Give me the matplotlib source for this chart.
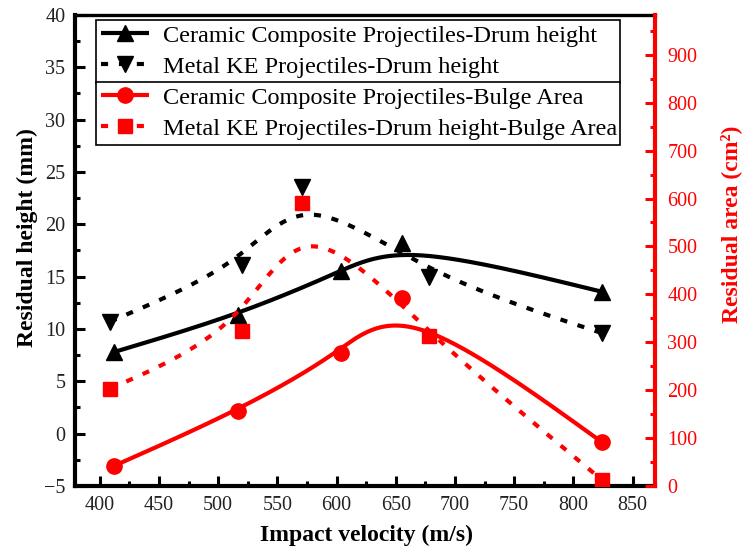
import numpy as np
import matplotlib
matplotlib.use('Agg')
import matplotlib.pyplot as plt
from matplotlib.ticker import MultipleLocator

plt.rcParams['font.family'] = ['Liberation Serif', 'DejaVu Serif']

# ---- data ----
vel_cc = [412, 517, 603.5, 655, 824.5]
vel_me = [408.5, 520.5, 571, 678, 824.5]
cc_height = [7.8, 11.35, 15.5, 18.25, 13.55]
me_height = [10.7, 16.1, 23.6, 15.0, 9.6]
cc_area = [42, 157, 278, 393, 91]
me_area = [203, 324, 591, 313, 12]

labels = ['Ceramic Composite Projectiles-Drum height',
          'Metal KE Projectiles-Drum height',
          'Ceramic Composite Projectiles-Bulge Area',
          'Metal KE Projectiles-Drum height-Bulge Area']


def bspline(x, y, n=120):
    """Uniform cubic B-spline using the data as control points (ends pinned)."""
    P = np.column_stack([x, y]).astype(float)
    P = np.vstack([2 * P[0] - P[1], P, 2 * P[-1] - P[-2]])
    s = np.linspace(0, 1, n)
    b0 = (1 - s) ** 3 / 6
    b1 = (3 * s ** 3 - 6 * s ** 2 + 4) / 6
    b2 = (-3 * s ** 3 + 3 * s ** 2 + 3 * s + 1) / 6
    b3 = s ** 3 / 6
    out = []
    for i in range(len(P) - 3):
        seg = (np.outer(b0, P[i]) + np.outer(b1, P[i + 1]) +
               np.outer(b2, P[i + 2]) + np.outer(b3, P[i + 3]))
        out.append(seg)
    c = np.vstack(out)
    return c[:, 0], c[:, 1]


fig = plt.figure(figsize=(7.46, 5.54), dpi=100)
ax = fig.add_axes([75 / 746, 68 / 554, 580 / 746, 471 / 554])
ax2 = ax.twinx()

lw = 3
dots = (0, (1.7, 2.6))

# left axis series
x, y = bspline(vel_cc, cc_height)
l1, = ax.plot(x, y, color='black', lw=lw, solid_capstyle='butt')
m1, = ax.plot(vel_cc, cc_height, ls='none', marker='^', ms=12, color='black')
x, y = bspline(vel_me, me_height)
l2, = ax.plot(x, y, color='black', lw=lw, linestyle=dots)
m2, = ax.plot(vel_me, me_height, ls='none', marker='v', ms=12, color='black')

# right axis series
x, y = bspline(vel_cc, cc_area)
l3, = ax2.plot(x, y, color='red', lw=lw, solid_capstyle='butt')
m3, = ax2.plot(vel_cc, cc_area, ls='none', marker='o', ms=11, color='red')
x, y = bspline(vel_me, me_area)
l4, = ax2.plot(x, y, color='red', lw=lw, linestyle=dots)
m4, = ax2.plot(vel_me, me_area, ls='none', marker='s', ms=10, color='red')

ax.set_xlim(379, 869)
ax.set_ylim(-5, 40)
ax2.set_ylim(0, 983)

ax.xaxis.set_major_locator(MultipleLocator(50))
ax.xaxis.set_minor_locator(MultipleLocator(25))
ax.yaxis.set_major_locator(MultipleLocator(5))
ax.yaxis.set_minor_locator(MultipleLocator(2.5))
ax2.yaxis.set_major_locator(MultipleLocator(100))
ax2.yaxis.set_minor_locator(MultipleLocator(50))

ax.tick_params(which='both', direction='in', top=False, right=False,
               width=2.2, color='black')
ax.tick_params(which='major', length=7, labelsize=14.5, pad=7,
               labelcolor='#222222')
ax.tick_params(which='minor', length=3.5)
ax2.tick_params(which='both', direction='in', width=2.2, color='red',
                labelcolor='red')
ax2.tick_params(which='major', length=7, labelsize=14.5, pad=9)
ax2.tick_params(which='minor', length=3.5)

for side in ['left', 'bottom']:
    ax.spines[side].set_linewidth(3)
ax.spines['top'].set_linewidth(2.4)
ax.spines['right'].set_visible(False)
for side in ['left', 'bottom', 'top']:
    ax2.spines[side].set_visible(False)
ax2.spines['right'].set_color('red')
ax2.spines['right'].set_linewidth(3)

ax.set_xlabel('Impact velocity (m/s)', fontsize=17, fontweight='bold')
ax.set_ylabel('Residual height (mm)', fontsize=17, fontweight='bold')
ax2.set_ylabel('Residual area (cm²)', fontsize=17, fontweight='bold',
               color='red')
ax.xaxis.set_label_coords(0.502, -0.083)
ax.yaxis.set_label_coords(-0.064, 0.527)
ax2.yaxis.set_label_coords(1.112, 0.555)

leg_kw = dict(loc='upper left', mode='expand', borderaxespad=0,
              fontsize=17.5, frameon=True, fancybox=False, framealpha=1,
              edgecolor='black', handlelength=1.97, handletextpad=0.58,
              borderpad=0.2, labelspacing=0.37)
x0 = (96 - 75) / 580
w = (620 - 96) / 580
leg1 = ax2.legend([(l1, m1), (l2, m2)], labels[:2],
                  bbox_to_anchor=(x0, 0, w, (486 - 20) / 471), **leg_kw)
leg1.get_frame().set_linewidth(1.2)
ax2.add_artist(leg1)
leg2 = ax2.legend([(l3, m3), (l4, m4)], labels[2:],
                  bbox_to_anchor=(x0, 0, w, (486 - 82) / 471), **leg_kw)
leg2.get_frame().set_linewidth(1.2)

fig.savefig('out.png', dpi=100)
